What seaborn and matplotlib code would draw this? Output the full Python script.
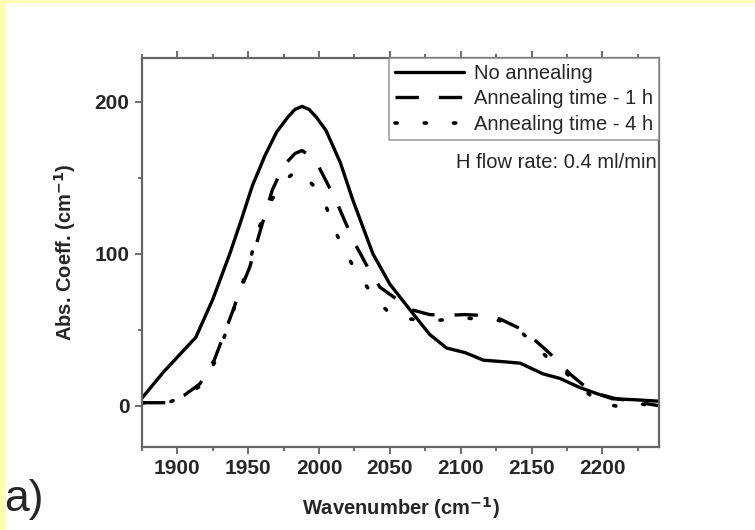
import matplotlib
matplotlib.use("Agg")
import matplotlib.pyplot as plt
import seaborn as sns
import pandas as pd
from matplotlib.patches import Rectangle

sns.set_style("white")
plt.rcParams['font.family'] = ['Liberation Sans', 'DejaVu Sans']

# Data
wn_none = [1875, 1890, 1913, 1925, 1937, 1945, 1953, 1962, 1970, 1978, 1983, 1988, 1993,
           1998, 2005, 2015, 2024, 2038, 2050, 2066, 2078, 2090, 2103, 2116, 2130, 2142,
           2158, 2170, 2184, 2196, 2207, 2222, 2240]
abs_none = [5, 22, 45, 70, 100, 122, 145, 165, 180, 190, 195, 197, 195,
            190, 181, 160, 135, 100, 80, 61, 47, 38, 35, 30, 29, 28,
            21, 18, 12, 8, 4.6, 4, 3]

wn_1h = [1875, 1893, 1905, 1916, 1926, 1935, 1944, 1951, 1960, 1967, 1975, 1983, 1988,
         1994, 2000, 2012, 2024, 2035, 2043, 2055, 2066, 2078, 2090, 2103, 2114, 2128,
         2140, 2150, 2158, 2168, 2177, 2186, 2196, 2208, 2221, 2240]
abs_1h = [2, 2, 7, 14.5, 30, 52, 75, 91, 120, 142, 158, 166, 168,
          164, 157, 135, 109, 90, 78, 70, 63, 60, 59.5, 60, 59.5, 57,
          51.6, 45, 38.5, 30, 21, 14, 8, 5, 3, 0]

wn_4h = [1875, 1893, 1905, 1916, 1926, 1935, 1944, 1951, 1958, 1965, 1975, 1985, 1996,
         2005, 2015, 2024, 2031, 2041, 2052, 2065, 2083, 2099, 2114, 2128, 2140, 2151,
         2163, 2175, 2186, 2198, 2214, 2228, 2240]
abs_4h = [2, 2, 6, 13, 28, 50, 75, 95, 118, 133, 148, 155, 145,
          131, 107, 92, 82, 69, 59, 57, 56, 58, 57, 56, 51, 41,
          30, 21, 11, 2, -1, 1, 0]

labels = ["No annealing", "Annealing time - 1 h", "Annealing time - 4 h"]
xticks = [1900, 1950, 2000, 2050, 2100, 2150, 2200]
yticks = [0, 100, 200]

fig = plt.figure(figsize=(7.55, 5.3), dpi=100)
fig.patch.set_facecolor("white")
# yellow frame strips
fig.patches.append(Rectangle((0, 0), 0.0075, 1, transform=fig.transFigure,
                             facecolor="#FFFFB3", edgecolor="none", zorder=0))
fig.patches.append(Rectangle((0, 0.994), 1, 0.006, transform=fig.transFigure,
                             facecolor="#FFFFB3", edgecolor="none", zorder=0))

ax = fig.add_axes([0.188, 0.157, 0.685, 0.734])

df1 = pd.DataFrame({"x": wn_none, "y": abs_none})
df2 = pd.DataFrame({"x": wn_1h, "y": abs_1h})
df3 = pd.DataFrame({"x": wn_4h, "y": abs_4h})

sns.lineplot(data=df1, x="x", y="y", ax=ax, color="black", linewidth=2.4,
             label=labels[0], sort=False)
sns.lineplot(data=df2, x="x", y="y", ax=ax, color="black", linewidth=2.4,
             linestyle=(0, (7, 6)), label=labels[1], sort=False)
sns.lineplot(data=df3, x="x", y="y", ax=ax, color="black", linewidth=2.6,
             linestyle=(0, (0.6, 7.5)), dash_capstyle="round", label=labels[2], sort=False)

ax.set_xlim(1875, 2240)
ax.set_ylim(-27, 229)
ax.set_xticks(xticks)
ax.set_xticks([1875 + 25 * i for i in range(15)], minor=True)
ax.set_yticks(yticks)
ax.set_yticks([50, 150], minor=True)
ax.set_xticklabels([str(t) for t in xticks], fontsize=15, fontweight="bold")
ax.set_yticklabels([str(t) for t in yticks], fontsize=15, fontweight="bold")
ax.tick_params(axis="both", which="major", direction="out", length=5, width=1.2,
               color="#555555", top=True, right=False, bottom=True, left=True, pad=4)
ax.tick_params(axis="both", which="minor", direction="out", length=3, width=1.2,
               color="#555555", top=True, right=False, bottom=True, left=True)
for s in ax.spines.values():
    s.set_color("#666666")
    s.set_linewidth(1.6)

ax.set_xlabel("Wavenumber (cm$^{\\mathbf{-1}}$)", fontsize=14.5, fontweight="bold", labelpad=12)
ax.set_ylabel("Abs. Coeff. (cm$^{\\mathbf{-1}}$)", fontsize=14.5, fontweight="bold", labelpad=12)

leg = ax.legend(loc="upper right", fontsize=14.5, frameon=True, fancybox=False,
                edgecolor="#888888", borderaxespad=0, handlelength=3.4,
                labelspacing=0.32, borderpad=0.3, handletextpad=0.5)
leg.get_frame().set_linewidth(1.2)

ax.text(0.995, 0.73, "H flow rate: 0.4 ml/min", transform=ax.transAxes,
        ha="right", va="center", fontsize=14.5)

fig.text(0.006, 0.057, "a)", fontsize=32, ha="left", va="center")

fig.savefig("out.png", dpi=100)
